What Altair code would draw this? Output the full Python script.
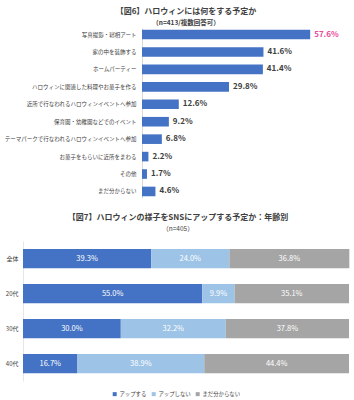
import altair as alt
import pandas as pd

FONT = "Noto Sans CJK JP"

# ---- Figure 6 data ----
items = [
    "写真撮影・寝相アート",
    "家の中を装飾する",
    "ホームパーティー",
    "ハロウィンに関連した料理やお菓子を作る",
    "近所で行なわれるハロウィンイベントへ参加",
    "保育園・幼稚園などでのイベント",
    "テーマパークで行なわれるハロウィンイベントへ参加",
    "お菓子をもらいに近所をまわる",
    "その他",
    "まだ分からない",
]
item_pcts = [57.6, 41.6, 41.4, 29.8, 12.6, 9.2, 6.8, 2.2, 1.7, 4.6]

# ---- Figure 7 data ----
groups = ["全体", "20代", "30代", "40代"]
answers = ["アップする", "アップしない", "まだ分からない"]
up = [39.3, 55.0, 30.0, 16.7]
no_up = [24.0, 9.9, 32.2, 38.9]
unknown = [36.8, 35.1, 37.8, 44.4]
colors = ["#4472C4", "#9DC3E6", "#A5A5A5"]

df1 = pd.DataFrame({
    "item": items,
    "pct": item_pcts,
    "label": [f"{v:.1f}%" for v in item_pcts],
})

rows = []
for gi, g in enumerate(groups):
    for ai, (a, vals) in enumerate(zip(answers, [up, no_up, unknown])):
        rows.append({"group": g, "answer": a, "order": ai, "pct": vals[gi],
                     "label": f"{vals[gi]:.1f}%"})
df2 = pd.DataFrame(rows)

W = 326          # common plot width
LEFT = 119       # where the fig.6 bars start inside the plot area

# ---- top chart ----
y1 = alt.Y("item:N", sort=items, title=None,
           scale=alt.Scale(paddingInner=0.45, paddingOuter=0.1),
           axis=alt.Axis(labelFontSize=5.5, labelColor="#404040", ticks=False,
                         domainColor="#D9D9D9", labelPadding=6, labelLimit=300,
                         offset=-LEFT))
x1 = alt.X("pct:Q", scale=alt.Scale(domain=[0, 70.9], range=[LEFT, W]), axis=None)
base1 = alt.Chart(df1)
bars1 = base1.mark_bar(color="#4472C4").encode(x=x1, y=y1)
text1 = base1.mark_text(align="left", dx=4, fontSize=8, fontWeight="bold").encode(
    x=x1, y=y1, text="label:N",
    color=alt.condition(alt.datum.pct > 50, alt.value("#E94B9A"), alt.value("#404040")),
)
top = alt.layer(bars1, text1).properties(
    width=W, height=170,
    title=alt.TitleParams(
        "【図6】ハロウィンには何をする予定か",
        subtitle="（n=413/複数回答可）",
        fontSize=8, subtitleFontSize=6.5, color="#404040", subtitleColor="#404040",
        fontWeight="bold", subtitleFontWeight="bold",
        anchor="middle", frame="group", offset=2, subtitlePadding=4,
    ),
)

# ---- bottom chart ----
base2 = alt.Chart(df2).transform_stack(
    stack="pct", as_=["x0", "x1"], groupby=["group"],
    sort=[alt.SortField("order", order="ascending")],
).transform_calculate(mid="(datum.x0 + datum.x1) / 2")
y2 = alt.Y("group:N", sort=groups, title=None,
           scale=alt.Scale(paddingInner=0.45, paddingOuter=0.225),
           axis=alt.Axis(labelFontSize=6, labelColor="#404040", ticks=False,
                         domainColor="#E6E6E6", labelPadding=5))
bars2 = base2.mark_bar().encode(
    x=alt.X("x0:Q", scale=alt.Scale(domain=[0, 100]), axis=None),
    x2="x1:Q",
    y=y2,
    color=alt.Color("answer:N", sort=answers,
                    scale=alt.Scale(domain=answers, range=colors),
                    legend=alt.Legend(title=None, orient="none", direction="horizontal",
                                      legendX=89, legendY=363,
                                      symbolType="square", symbolSize=16,
                                      labelFontSize=5.4, labelColor="#404040",
                                      columnPadding=4, symbolStrokeWidth=0,
                                      labelOffset=2, padding=0)),
)
text2 = base2.mark_text(color="white", fontSize=7.5).encode(
    x=alt.X("mid:Q", scale=alt.Scale(domain=[0, 100]), axis=None),
    y=y2, text="label:N",
)
bottom = alt.layer(bars2, text2).properties(
    width=W, height=140,
    title=alt.TitleParams(
        "【図7】ハロウィンの様子をSNSにアップする予定か：年齢別",
        subtitle="（n=405）",
        fontSize=8, subtitleFontSize=6.5, color="#404040", subtitleColor="#404040",
        fontWeight="bold", dx=-8,
        anchor="middle", frame="group", offset=9, subtitlePadding=3.5,
    ),
)

chart = alt.concat(top, bottom, columns=1, spacing=16).properties(
    padding={"left": 3, "top": 7, "right": 2, "bottom": 2},
    background="white",
).configure(font=FONT).configure_view(stroke=None)

chart.save("out.html", embed_options={"renderer": "svg", "actions": False})
